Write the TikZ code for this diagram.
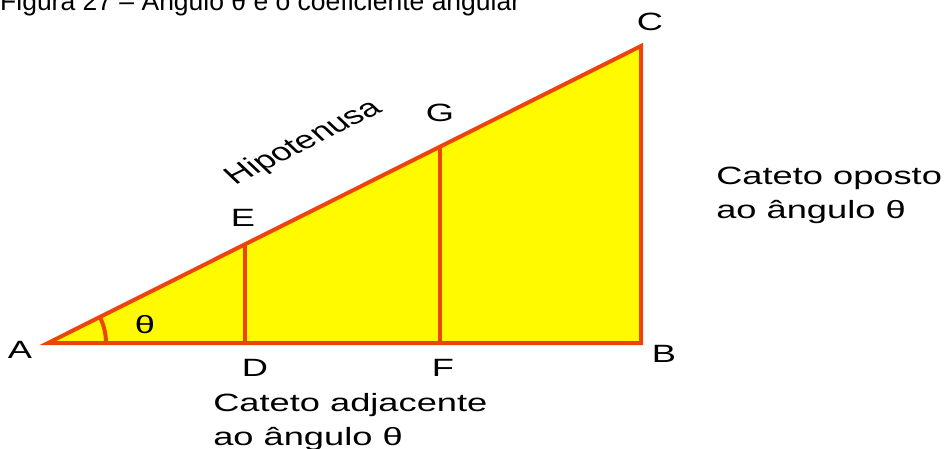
\documentclass[tikz,border=0pt]{standalone}
\usepackage{fontspec}
\setmainfont{Liberation Sans}
\usepackage{xcolor}
\usepackage{tikz}
\definecolor{edgeRed}{RGB}{238,68,12}
\definecolor{fillYellow}{RGB}{255,250,0}

\begin{document}
\begin{tikzpicture}[
  x=1pt,y=1pt,
  side/.style={draw=edgeRed,line width=4pt},
  txt/.style={font=\fontsize{25}{34}\selectfont,inner sep=0pt},
  lbl/.style={txt,xscale=1.45},
  note/.style={lbl,align=left,anchor=west}
]
\useasboundingbox (0,0) rectangle (948,448);
\coordinate (a) at (48,105);
\coordinate (b) at (641,105);
\coordinate (c) at (641,402);
\coordinate (d) at (245,105);
\coordinate (e) at (245,203.5);
\coordinate (f) at (440,105);
\coordinate (g) at (440,301);
\filldraw[side,fill=fillYellow] (a) -- (b) -- (c) -- cycle;
\draw[side] (d) -- (e);
\draw[side] (f) -- (g);
\draw[side] (a) ++(58,0) arc[start angle=0,end angle=26.57,radius=58];
\node[anchor=base west,inner sep=0pt,font=\fontsize{26.5}{30}\selectfont] (title) at (0,437) {Figura 27 – Ângulo θ e o coeficiente angular};
\node[lbl] (la) at (20,98) {A};
\node[lbl] (lb) at (664,94) {B};
\node[lbl] (lc) at (650,426) {C};
\node[lbl] (ld) at (255,80) {D};
\node[lbl] (le) at (243,230) {E};
\node[lbl] (lf) at (443,80) {F};
\node[lbl] (lg) at (440,335) {G};
\node[lbl] (theta) at (145,123) {θ};
\node[lbl,rotate=36] (hyp) at (304,305) {Hipotenusa};
\node[note] (opp) at (716,253) {Cateto oposto\\ao ângulo θ};
\node[note] (adj) at (213,26) {Cateto adjacente\\ao ângulo θ};
\end{tikzpicture}
\end{document}
